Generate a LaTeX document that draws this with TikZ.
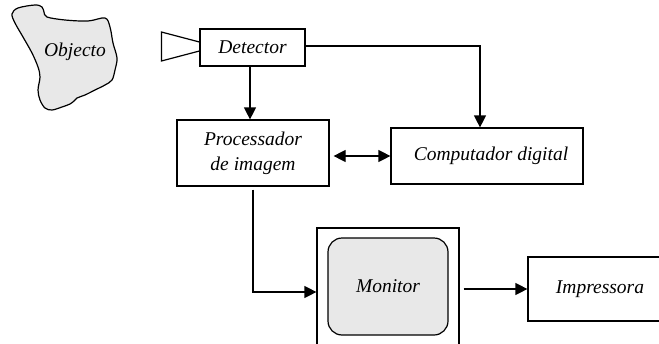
\documentclass[tikz,border=0pt]{standalone}
\usepackage{fontspec}
\setmainfont{Liberation Serif}
\usetikzlibrary{arrows.meta}
\definecolor{lgray}{RGB}{232,232,232}
\begin{document}
\begin{tikzpicture}[x=1pt,y=-1pt,
  box/.style={draw, line width=1.2pt, inner sep=0pt, font=\itshape\fontsize{19.5}{25}\selectfont, align=center},
  lbl/.style={font=\itshape\fontsize{19.5}{25}\selectfont, inner sep=0pt},
  arr/.style={line width=1.2pt, -{Triangle[length=12pt,width=12pt]}},
  arrtwo/.style={line width=1.2pt, {Triangle[length=12pt,width=12pt]}-{Triangle[length=12pt,width=12pt]}}]
\useasboundingbox (0,0) rectangle (659,343);
\clip (0,0) rectangle (659,343);
% object blob
\draw[line width=1.2pt, fill=lgray] plot[smooth cycle, tension=0.55] coordinates {
 (12,14) (18,8) (35,5) (42,7) (44,12) (47,17) (65,20) (88,21) (105,18) (110,27) (113,43)
 (117,58) (115,70) (112,80) (105,85) (95,90) (85,95) (77,98) (74,101) (70,104) (62,107) (52,110) (45,108)
 (40,100) (38,90) (40,77) (38,67) (32,53) (23,37) (15,23)};
\node[lbl] (obj) at (75,52) {Objecto};
% boxes
\node[box, minimum width=105, minimum height=37] (det) at (252.5,47.5) {Detector};
\draw[line width=1.2pt] (det.west) ++(0,-5.5) -- ++(-38,-10) -- ++(0,29) -- ++(38,-10);
\node[box, minimum width=152, minimum height=66] (proc) at (253,153) {Processador\\de imagem};
\node[box, minimum width=192, minimum height=56] (comp) at (487,156) {\hspace*{8pt}Computador digital};
\node[draw, line width=1.2pt, minimum width=142, minimum height=128, inner sep=0pt] (monout) at (388,292) {};
\node[box, fill=lgray, rounded corners=14pt, minimum width=120, minimum height=97] (mon) at (388,286.5) {Monitor};
\node[box, minimum width=144, minimum height=64] (imp) at (600,289) {Impressora};
% connectors
\draw[arr] ([xshift=-2.5pt]det.south) -- ([xshift=-2.5pt]det.south |- proc.north);
\draw[arr] ([yshift=1.5pt]det.east) -| ([xshift=-7pt]comp.north);
\draw[arrtwo] ([xshift=4pt]proc.east |- comp.west) -- (comp.west);
\draw[arr] ([yshift=-3pt]proc.south) |- (monout.west);
\draw[arr] ([xshift=4pt]monout.east |- imp.west) -- (imp.west);
\end{tikzpicture}
\end{document}
